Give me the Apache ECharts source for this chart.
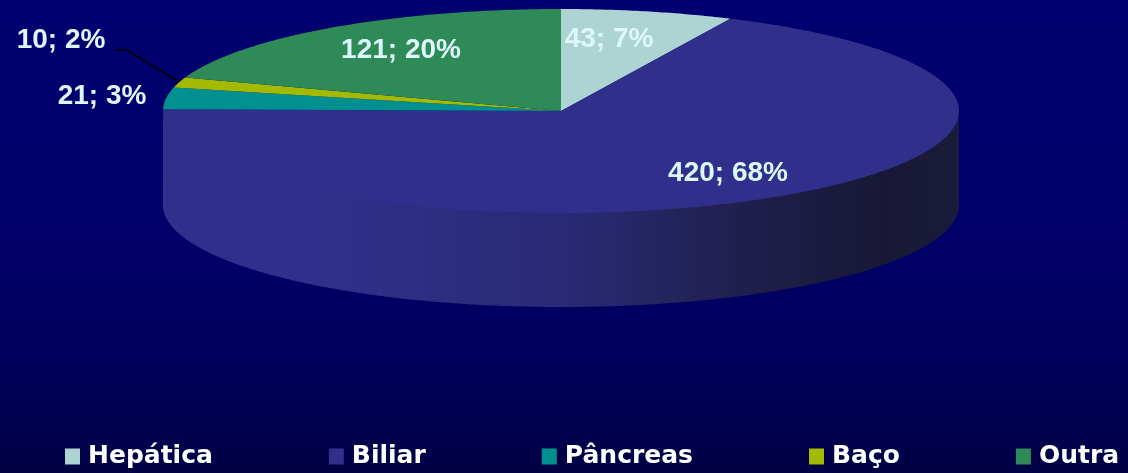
<!DOCTYPE html>
<html>
<head>
<meta charset="utf-8">
<style>html,body{margin:0;padding:0;background:#000060}#c{width:1128px;height:473px}</style>
<script src="https://cdn.jsdelivr.net/npm/echarts@6/dist/echarts.min.js"></script>
</head>
<body>
<div id="c"></div>
<script>
const categories = ['Hepática', 'Biliar', 'Pâncreas', 'Baço', 'Outra'];
const values = [43, 420, 21, 10, 121];
const colors = ['#AED3D3', '#30308C', '#009090', '#A4BA00', '#2E8B57'];
const labelCenters = [[609, 39], [728, 173], [102, 96], [61, 40], [401, 50]];
const leaderLine = [[115, 50], [127, 50], [179, 82]];
const pieCenter = [561, 111], radiusX = 398, radiusY = 102, depth = 94, wallOverlap = 4;

const total = values.reduce((a, b) => a + b, 0);
const chart = echarts.init(document.getElementById('c'), null, { renderer: 'canvas' });

function rimPoint(deg, drop) {
  const r = deg * Math.PI / 180;
  return [pieCenter[0] + radiusX * Math.sin(r), pieCenter[1] - radiusY * Math.cos(r) + drop(deg)];
}
function arc(from, to, drop) {
  const pts = [], n = Math.max(2, Math.ceil(Math.abs(to - from) * 2));
  for (let i = 0; i <= n; i++) pts.push(rimPoint(from + (to - from) * i / n, drop));
  return pts;
}
const noDrop = () => 0;
const underTop = deg => wallOverlap * Math.cos(deg * Math.PI / 180);
const wallBottom = () => depth;

function renderSlice(params, api) {
  const idx = params.seriesIndex;
  const before = values.slice(0, idx).reduce((a, b) => a + b, 0);
  const a0 = before / total * 360, a1 = (before + api.value(0)) / total * 360;
  const children = [];
  const wallFrom = Math.max(a0, 90), wallTo = Math.min(a1, 270);
  if (wallTo > wallFrom) {
    children.push({
      type: 'polygon', z2: 1,
      shape: { points: arc(wallFrom, wallTo, underTop).concat(arc(wallTo, wallFrom, wallBottom)) },
      style: {
        fill: new echarts.graphic.LinearGradient(0, 0, 1, 0, [
          { offset: 0, color: '#30308C' },
          { offset: 0.2, color: '#30308C' },
          { offset: 0.5, color: '#2A2A76' },
          { offset: 0.75, color: '#1E1E4A' },
          { offset: 0.9, color: '#181836' },
          { offset: 1, color: '#1A1A3A' }
        ])
      }
    });
  }
  children.push({
    type: 'polygon', z2: 2,
    shape: { points: [pieCenter].concat(arc(a0, a1, noDrop)) },
    style: { fill: colors[idx] }
  });
  const pct = Math.round(api.value(0) / total * 100);
  children.push({
    type: 'text', z2: 10,
    x: labelCenters[idx][0], y: labelCenters[idx][1],
    style: {
      text: api.value(0) + '; ' + pct + '%',
      fill: '#DDF8FA',
      font: 'bold 28px "Liberation Sans", Arial, sans-serif',
      align: 'center', verticalAlign: 'middle'
    }
  });
  if (idx === 3) {
    children.push({
      type: 'polyline', z2: 5,
      shape: { points: leaderLine },
      style: { fill: 'none', stroke: '#000000', lineWidth: 1.6 }
    });
  }
  return { type: 'group', children };
}

chart.setOption({
  animation: false,
  backgroundColor: new echarts.graphic.LinearGradient(0, 0, 0, 1, [
    { offset: 0, color: '#000070' },
    { offset: 0.5, color: '#000068' },
    { offset: 0.8, color: '#00005A' },
    { offset: 1, color: '#000044' }
  ]),
  legend: {
    data: categories,
    left: 60, top: 439,
    icon: 'rect',
    itemWidth: 15, itemHeight: 16,
    itemGap: 116,
    selectedMode: false,
    textStyle: {
      color: '#FFFFFF',
      fontFamily: '"DejaVu Sans"',
      fontWeight: 'bold',
      fontSize: 25,
      padding: [0, 0, 0, 3]
    }
  },
  series: categories.map((name, i) => ({
    type: 'custom',
    name,
    coordinateSystem: 'none',
    itemStyle: { color: colors[i] },
    renderItem: renderSlice,
    data: [[values[i]]],
    silent: true
  }))
});
</script>
</body>
</html>
